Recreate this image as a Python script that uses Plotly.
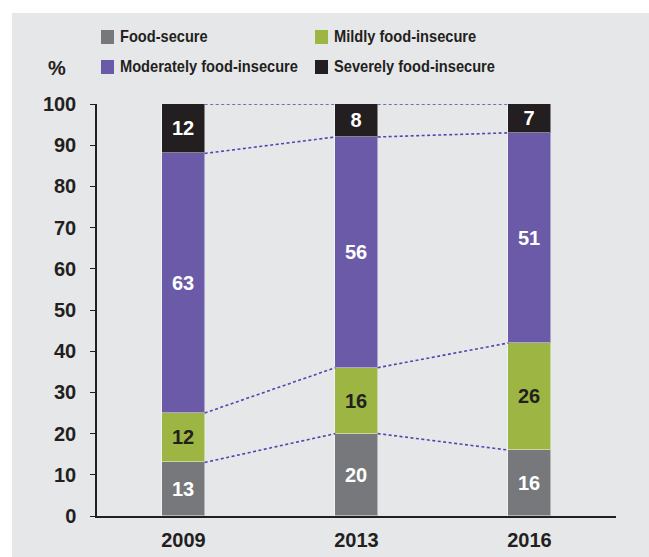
import plotly.graph_objects as go

# Food security shares by year (percent of households)
years = ["2009", "2013", "2016"]
categories = ["Food-secure", "Mildly food-insecure",
              "Moderately food-insecure", "Severely food-insecure"]
food_secure = [13, 20, 16]
mildly = [12, 16, 26]
moderately = [63, 56, 51]
severely = [12, 8, 7]
y_ticks = [0, 10, 20, 30, 40, 50, 60, 70, 80, 90, 100]

series = [food_secure, mildly, moderately, severely]
colors = ["#77787b", "#9cb543", "#6a5aa8", "#231f20"]
text_colors = ["white", "#231f20", "white", "white"]

FONT = "Liberation Sans, Arial, sans-serif"
INK = "#231f20"
W, H = 649, 557
ML, MR, MT, MB = 97, 33, 104, 41
PW, PH = W - ML - MR, H - MT - MB
BAR_W = 0.245

def px_x(px):
    return (px - ML) / PW

def px_y(py):
    return (H - MB - py) / PH

x_pos = list(range(len(years)))
fig = go.Figure()

for name, vals, col, tcol in zip(categories, series, colors, text_colors):
    fig.add_trace(go.Bar(
        x=x_pos, y=vals, name=name, width=BAR_W,
        marker=dict(color=col, line=dict(color="rgba(255,255,255,0.45)", width=1)),
        text=[str(v) for v in vals], textposition="inside", textangle=0,
        insidetextanchor="middle", constraintext="none",
        textfont=dict(family=FONT, size=20, color=tcol, weight="bold"),
        showlegend=False, hoverinfo="skip",
    ))

# Dotted connectors between segment boundaries of adjacent bars
cum = [0, 0, 0]
for vals in series:
    cum = [c + v for c, v in zip(cum, vals)]
    for i in range(len(years) - 1):
        fig.add_trace(go.Scatter(
            x=[x_pos[i] + BAR_W / 2, x_pos[i + 1] - BAR_W / 2],
            y=[cum[i], cum[i + 1]], mode="lines",
            line=dict(color="#4f46b0", width=1.6, dash="3px,2.5px"),
            showlegend=False, hoverinfo="skip", cliponaxis=False,
        ))

shapes = [
    # grey panel behind the chart
    dict(type="rect", xref="paper", yref="paper", layer="below",
         x0=px_x(12), x1=px_x(W + 5), y0=px_y(H + 5), y1=px_y(13),
         fillcolor="#e6e7e9", line=dict(width=0)),
]
annotations = [
    dict(text="%", xref="paper", yref="paper", x=px_x(57), y=px_y(68),
         xanchor="center", yanchor="middle", showarrow=False,
         font=dict(family=FONT, size=20, color=INK, weight="bold")),
]

# Legend: two columns, two rows
legend_pos = [(101, 37), (315, 37), (101, 67), (315, 67)]
for (lx, ly), name, col in zip(legend_pos, categories, colors):
    shapes.append(dict(type="rect", xref="paper", yref="paper",
                       x0=px_x(lx), x1=px_x(lx + 13), y0=px_y(ly + 7), y1=px_y(ly - 7),
                       fillcolor=col, line=dict(width=0)))
    annotations.append(dict(text=name, xref="paper", yref="paper", align="left",
                            x=px_x(lx + 17), y=px_y(ly), xanchor="left", yanchor="middle",
                            showarrow=False,
                            font=dict(family=FONT, size=17, color=INK, weight="bold")))

fig.update_layout(
    width=W, height=H, margin=dict(l=ML, r=MR, t=MT, b=MB),
    paper_bgcolor="white", plot_bgcolor="rgba(0,0,0,0)",
    barmode="stack", bargap=0, showlegend=False,
    shapes=shapes, annotations=annotations,
    xaxis=dict(range=[-0.5, 2.5], tickvals=x_pos, ticktext=years,
               showgrid=False, zeroline=False, showline=True, automargin=False,
               linecolor=INK, linewidth=1.5, ticks="",
               ticklabelstandoff=5,
               tickfont=dict(family=FONT, size=20, color=INK, weight="bold")),
    yaxis=dict(range=[0, 100], tickvals=y_ticks, showgrid=False, zeroline=False,
               showline=True, linecolor=INK, linewidth=1.5, automargin=False,
               ticks="outside", ticklen=5, tickcolor=INK, tickwidth=1.2,
               ticklabelstandoff=10,
               tickfont=dict(family=FONT, size=20, color=INK, weight="bold")),
)

# Legend labels are set in a condensed cut: narrow each label's glyphs
condense = """
var gd = document.getElementById('{plot_id}');
gd.querySelectorAll('text.annotation-text').forEach(function (t) {
  if (t.textContent === '%') return;
  var w = t.getComputedTextLength();
  t.setAttribute('textLength', (w * 0.86).toFixed(1));
  t.setAttribute('lengthAdjust', 'spacingAndGlyphs');
});
"""

fig.write_html("out.html", post_script=condense)
